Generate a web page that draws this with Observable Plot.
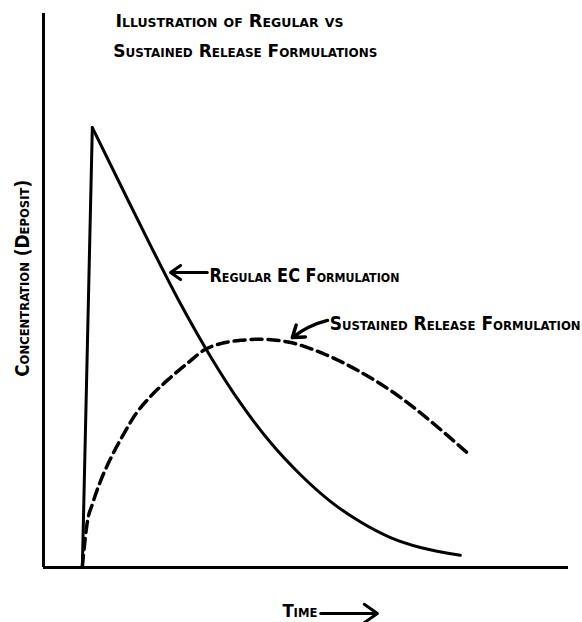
<!DOCTYPE html>
<html>
<head>
<meta charset="utf-8">
<script src="https://cdn.jsdelivr.net/npm/d3@7"></script>
<script src="https://cdn.jsdelivr.net/npm/@observablehq/plot@0.6"></script>
<style>
  html, body { margin: 0; padding: 0; background: #fff; }
  #chart svg { display: block; }
</style>
</head>
<body>
<div id="chart"></div>
<script>
// Regular EC formulation (time in arbitrary units, concentration in % of axis height)
const regularTime = [7.4, 9.3, 14.7, 20.4, 26.1, 31.8, 37.5, 43.2, 49.0, 54.7, 60.4, 66.1, 71.8, 79.4];
const regularConc = [0.0, 79.4, 69.0, 58.1, 47.6, 38.1, 29.7, 22.6, 16.7, 11.9, 8.2, 5.4, 3.6, 2.2];

// Sustained release formulation
const sustainedTime = [7.4, 8.4, 9.3, 10.9, 12.8, 15.1, 17.5, 20.4, 24.2, 27.6, 30.5, 33.7, 37.5, 41.3, 47.1, 53.3, 59.8, 67.4, 73.1, 80.6];
const sustainedConc = [0.2, 8.5, 11.4, 15.7, 19.7, 23.8, 27.6, 30.9, 34.3, 37.0, 39.2, 40.4, 41.0, 41.2, 40.6, 38.6, 35.6, 31.1, 26.9, 20.8];

// Annotation texts and their anchors (data units)
const titleLines = ["Illustration of Regular vs", "Sustained Release Formulations"];
const titleTime = [13.7, 13.3];
const titleConc = [98.6, 93.2];
const titleWidth = [228, 264];

const curveLabels = ["Regular EC Formulation", "Sustained Release Formulation"];
const curveLabelTime = [31.6, 54.5];
const curveLabelConc = [52.7, 44.0];
const curveLabelWidth = [190, 251];
const arrowTailTime = [31.2, 54.1];
const arrowTailConc = [53.25, 44.6];
const arrowTipTime = [24.2, 47.4];
const arrowTipConc = [53.25, 41.5];

const xLabel = "Time";
const xLabelPos = {t: 45.5, c: -7.8, w: 35};
const xArrow = {t1: 52.8, t2: 63.6, c: -8.3};
const yLabel = "Concentration (Deposit)";
const yLabelPos = {t: -4.0, c: 52.2, w: 197};

const regular = regularTime.map((t, i) => ({t, c: regularConc[i]}));
const sustained = sustainedTime.map((t, i) => ({t, c: sustainedConc[i]}));
const annot = curveLabels.map((s, i) => ({
  s, t: curveLabelTime[i], c: curveLabelConc[i],
  t1: arrowTailTime[i], c1: arrowTailConc[i], t2: arrowTipTime[i], c2: arrowTipConc[i]
}));
const titles = titleLines.map((s, i) => ({s, t: titleTime[i], c: titleConc[i]}));

const font = "'DejaVu Sans Condensed', 'DejaVu Sans', sans-serif";

const plot = Plot.plot({
  width: 582,
  height: 622,
  marginLeft: 43,
  marginRight: 14,
  marginTop: 13,
  marginBottom: 55,
  x: {domain: [0, 100], axis: null},
  y: {domain: [0, 100], axis: null},
  style: {background: "#fff", fontFamily: font},
  marks: [
    Plot.ruleX([0], {stroke: "#000", strokeWidth: 3}),
    Plot.ruleY([0], {stroke: "#000", strokeWidth: 3}),
    // regular: sharp rise then smooth decay
    Plot.line(regular.slice(0, 2), {x: "t", y: "c", stroke: "#000", strokeWidth: 3}),
    Plot.line(regular.slice(1), {x: "t", y: "c", stroke: "#000", strokeWidth: 3, curve: "monotone-x"}),
    // sustained release: dashed
    Plot.line(sustained, {x: "t", y: "c", stroke: "#000", strokeWidth: 3.5, strokeDasharray: "11,6", curve: "monotone-x"}),
    // annotation arrows
    Plot.arrow(annot.slice(0, 1), {x1: "t1", y1: "c1", x2: "t2", y2: "c2", stroke: "#000", strokeWidth: 3, headLength: 9, headAngle: 70}),
    Plot.arrow(annot.slice(1), {x1: "t1", y1: "c1", x2: "t2", y2: "c2", stroke: "#000", strokeWidth: 3.5, headLength: 9, headAngle: 70, bend: -12}),
    Plot.text(annot, {x: "t", y: "c", text: "s", textAnchor: "start", fontSize: 19, fontWeight: "bold", fontVariant: "small-caps", fill: "#000", className: "curvelab"}),
    Plot.text(titles, {x: "t", y: "c", text: "s", textAnchor: "start", fontSize: 18.5, fontWeight: "bold", fontVariant: "small-caps", fill: "#000", className: "titlelab"}),
    Plot.text([xLabelPos], {x: "t", y: "c", text: () => xLabel, textAnchor: "start", fontSize: 18.5, fontWeight: "bold", fontVariant: "small-caps", fill: "#000", className: "xlab"}),
    Plot.arrow([xArrow], {x1: "t1", y1: "c", x2: "t2", y2: "c", stroke: "#000", strokeWidth: 3, headLength: 8, headAngle: 70}),
    Plot.text([yLabelPos], {x: "t", y: "c", text: () => yLabel, rotate: -90, textAnchor: "middle", fontSize: 19, fontWeight: "bold", fontVariant: "small-caps", fill: "#000", className: "ylab"})
  ]
});

document.getElementById("chart").appendChild(plot);

// fit label widths to the reference lettering
const svg = d3.select(plot);
svg.selectAll(".curvelab text").each(function(d, i) {
  d3.select(this).attr("textLength", curveLabelWidth[i]).attr("lengthAdjust", "spacingAndGlyphs");
});
svg.selectAll(".titlelab text").each(function(d, i) {
  d3.select(this).attr("textLength", titleWidth[i]).attr("lengthAdjust", "spacingAndGlyphs");
});
svg.selectAll(".xlab text").attr("textLength", xLabelPos.w).attr("lengthAdjust", "spacingAndGlyphs");
svg.selectAll(".ylab text").attr("textLength", yLabelPos.w).attr("lengthAdjust", "spacingAndGlyphs");
</script>
</body>
</html>
